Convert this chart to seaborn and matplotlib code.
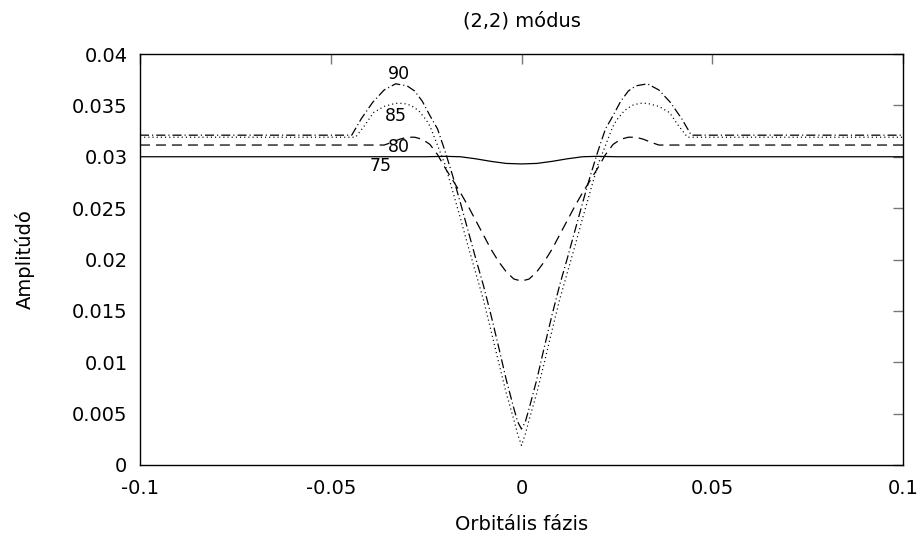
import numpy as np
import pandas as pd
import matplotlib
matplotlib.use("Agg")
import matplotlib.pyplot as plt
import seaborn as sns

# ---- data ----
x75 = [-0.1, -0.025, -0.020, -0.016, -0.012, -0.008, -0.004, 0.0,
       0.004, 0.008, 0.012, 0.016, 0.020, 0.025, 0.1]
y75 = [0.0300, 0.0300, 0.03004, 0.0300, 0.0298, 0.02955, 0.02935, 0.0293,
       0.02935, 0.02955, 0.0298, 0.0300, 0.03004, 0.0300, 0.0300]

x80 = [-0.1, -0.036, -0.034, -0.032, -0.030, -0.028, -0.026, -0.024, -0.022,
       -0.020, -0.018, -0.016, -0.014, -0.012, -0.010, -0.008, -0.006, -0.004,
       -0.002, 0.0, 0.002, 0.004, 0.006, 0.008, 0.010, 0.012, 0.014, 0.016,
       0.018, 0.020, 0.022, 0.024, 0.026, 0.028, 0.030, 0.032, 0.034, 0.036, 0.1]
y80 = [0.03114, 0.03114, 0.0314, 0.0317, 0.0319, 0.0319, 0.0317, 0.0312, 0.0302,
       0.0289, 0.0277, 0.0265, 0.0252, 0.0238, 0.0224, 0.0210, 0.0198, 0.0188,
       0.0181, 0.0179, 0.0181, 0.0188, 0.0198, 0.0210, 0.0224, 0.0238, 0.0252, 0.0265,
       0.0277, 0.0289, 0.0302, 0.0312, 0.0317, 0.0319, 0.0319, 0.0317, 0.0314, 0.03114, 0.03114]

x85 = [-0.1, -0.0435, -0.041, -0.0388, -0.036, -0.033, -0.031, -0.029, -0.027,
       -0.025, -0.0239, -0.0218, -0.020, -0.018, -0.016, -0.014, -0.012, -0.010,
       -0.008, -0.006, -0.004, -0.002, -0.001, 0.0, 0.001, 0.002, 0.004, 0.006,
       0.008, 0.010, 0.012, 0.014, 0.016, 0.018, 0.020, 0.0218, 0.0239, 0.025,
       0.027, 0.029, 0.031, 0.033, 0.036, 0.0388, 0.041, 0.0435, 0.1]
y85 = [0.0319, 0.0319, 0.0331, 0.0343, 0.0349, 0.0352, 0.0352, 0.0350, 0.0345,
       0.0336, 0.0329, 0.0309, 0.0292, 0.0266, 0.0240, 0.0213, 0.0187, 0.0161,
       0.0131, 0.0100, 0.0070, 0.0044, 0.0030, 0.0019, 0.0030, 0.0044, 0.0070, 0.0100,
       0.0131, 0.0161, 0.0187, 0.0213, 0.0240, 0.0266, 0.0292, 0.0309, 0.0329, 0.0336,
       0.0345, 0.0350, 0.0352, 0.0352, 0.0349, 0.0343, 0.0331, 0.0319, 0.0319]

x90 = [-0.1, -0.0445, -0.042, -0.039, -0.036, -0.033, -0.030, -0.028, -0.026,
       -0.024, -0.022, -0.020, -0.018, -0.016, -0.014, -0.012, -0.010, -0.008,
       -0.006, -0.004, -0.002, -0.001, 0.0, 0.001, 0.002, 0.004, 0.006, 0.008,
       0.010, 0.012, 0.014, 0.016, 0.018, 0.020, 0.022, 0.024, 0.026, 0.028,
       0.030, 0.033, 0.036, 0.039, 0.042, 0.0445, 0.1]
y90 = [0.0321, 0.0321, 0.0337, 0.0353, 0.0365, 0.0371, 0.0369, 0.0364, 0.0354,
       0.0340, 0.0327, 0.0305, 0.0281, 0.0255, 0.0228, 0.0201, 0.0175, 0.0146,
       0.0115, 0.0083, 0.0055, 0.0042, 0.0035, 0.0042, 0.0055, 0.0083, 0.0115, 0.0146,
       0.0175, 0.0201, 0.0228, 0.0255, 0.0281, 0.0305, 0.0327, 0.0340, 0.0354, 0.0364,
       0.0369, 0.0371, 0.0365, 0.0353, 0.0337, 0.0321, 0.0321]

curve_labels = ["75", "80", "85", "90"]
label_x = [-0.0370, -0.0322, -0.0330, -0.0320]
label_y = [0.0291, 0.03095, 0.03397, 0.03805]

xticks = [-0.1, -0.05, 0.0, 0.05, 0.1]
xtick_labels = ["-0.1", "-0.05", "0", "0.05", "0.1"]
yticks = [0.0, 0.005, 0.01, 0.015, 0.02, 0.025, 0.03, 0.035, 0.04]
ytick_labels = ["0", "0.005", "0.01", "0.015", "0.02", "0.025", "0.03", "0.035", "0.04"]

title = "(2,2) módus"
xlabel = "Orbitális fázis"
ylabel = "Amplitúdó"

# ---- plotting ----
sns.set_style("white")
plt.rcParams["font.family"] = ["DejaVu Sans"]
plt.rcParams["lines.scale_dashes"] = False
plt.rcParams["text.color"] = "black"
plt.rcParams["axes.labelcolor"] = "black"

fig = plt.figure(figsize=(9.22, 5.39), dpi=100)
ax = fig.add_axes([140 / 922, 74 / 539, 763 / 922, 411 / 539])

styles = {
    "75": "-",
    "80": (0, (7.2, 4.3)),
    "85": (0, (0.8, 2.2)),
    "90": (0, (6.5, 2.2, 0.8, 2.2)),
}
series = {"75": (x75, y75), "80": (x80, y80), "85": (x85, y85), "90": (x90, y90)}
for name, (xs, ys) in series.items():
    df = pd.DataFrame({"x": xs, "y": ys})
    sns.lineplot(data=df, x="x", y="y", ax=ax, color="black", lw=0.9,
                 estimator=None, sort=False)
    ax.lines[-1].set_linestyle(styles[name])

for t, lx, ly in zip(curve_labels, label_x, label_y):
    ax.text(lx, ly, t, ha="center", va="center", fontsize=12.5, color="black")

ax.set_xlim(-0.1, 0.1)
ax.set_ylim(0, 0.04)
ax.set_xticks(xticks)
ax.set_xticklabels(xtick_labels)
ax.set_yticks(yticks)
ax.set_yticklabels(ytick_labels)
ax.tick_params(axis="both", which="both", direction="in", length=7, width=1,
               color="#777777", top=True, right=True, labelsize=14,
               labelcolor="black")
ax.tick_params(axis="x", pad=10)
ax.tick_params(axis="y", pad=9)
for sp in ax.spines.values():
    sp.set_color("black")
    sp.set_linewidth(1.0)
    sp.set_visible(True)

ax.set_xlabel(xlabel, fontsize=14, labelpad=12)
ax.set_ylabel(ylabel, fontsize=14, labelpad=27)
ax.set_title(title, fontsize=14, pad=20)

fig.savefig("out.png", dpi=100, facecolor="white")
